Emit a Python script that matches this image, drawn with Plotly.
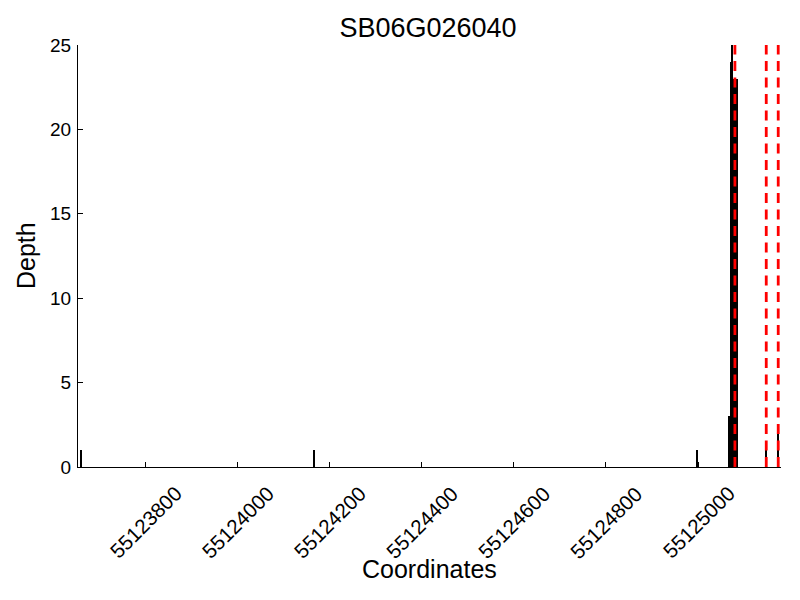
import plotly.graph_objects as go

title = "SB06G026040"
coords = [55123661, 55124167, 55124999,
          55125068, 55125069, 55125070, 55125071, 55125072, 55125073, 55125074,
          55125075, 55125076, 55125077, 55125078, 55125079, 55125080, 55125081,
          55125082, 55125083, 55125084,
          55125148, 55125174]
depths = [1, 1, 1,
          3, 3, 3, 24, 24, 25, 24,
          23, 23, 23, 23, 23, 23, 23,
          23, 23, 23,
          1, 2]
boundaries = [55125080, 55125148, 55125174]
x_range = [55123654.6, 55125180]
y_range = [0, 25]
x_ticks = [55123800, 55124000, 55124200, 55124400, 55124600, 55124800, 55125000]
y_ticks = [0, 5, 10, 15, 20, 25]

FONT = "Liberation Sans, Arial, sans-serif"

fig = go.Figure()
fig.add_trace(go.Bar(x=coords, y=depths, width=3,
                     marker=dict(color="black", line=dict(width=0)),
                     showlegend=False))
for b in boundaries:
    fig.add_shape(type="line", xref="x", yref="paper", x0=b, x1=b, y0=0, y1=1,
                  line=dict(color="red", width=2.8, dash="10px,6.5px"))

annotations = []
for t in x_ticks:
    annotations.append(dict(x=t, y=0, xref="x", yref="paper", text=str(t),
                            showarrow=False, textangle=-45, xanchor="center",
                            yanchor="top", yshift=-12,
                            font=dict(family=FONT, size=20.5, color="black")))
annotations.append(dict(x=0.5, y=0, xref="paper", yref="paper", text="Coordinates",
                        showarrow=False, xanchor="center", yanchor="middle", yshift=-102,
                        font=dict(family=FONT, size=25, color="black")))
annotations.append(dict(x=0, y=0.5, xref="paper", yref="paper", text="Depth",
                        showarrow=False, textangle=-90, xanchor="center", yanchor="middle",
                        xshift=-52, font=dict(family=FONT, size=25, color="black")))

fig.update_layout(
    width=784, height=584,
    margin=dict(l=70, r=11, t=37, b=125),
    paper_bgcolor="white", plot_bgcolor="white",
    title=dict(text=title, x=0.5357, xanchor="center", y=0.9658, yanchor="middle",
               font=dict(family=FONT, size=27, color="black")),
    bargap=0,
    annotations=annotations,
    xaxis=dict(range=x_range, showgrid=False, zeroline=False, showline=True,
               linecolor="black", linewidth=1.3, ticks="inside", ticklen=5,
               tickcolor="black", tickvals=x_ticks, showticklabels=False),
    yaxis=dict(range=y_range, showgrid=False, zeroline=False, showline=True,
               linecolor="black", linewidth=1.3, ticks="inside", ticklen=5,
               tickcolor="black", tickvals=y_ticks, ticklabelstandoff=2,
               tickfont=dict(family=FONT, size=19, color="black")),
)

fig.write_html("out.html")
